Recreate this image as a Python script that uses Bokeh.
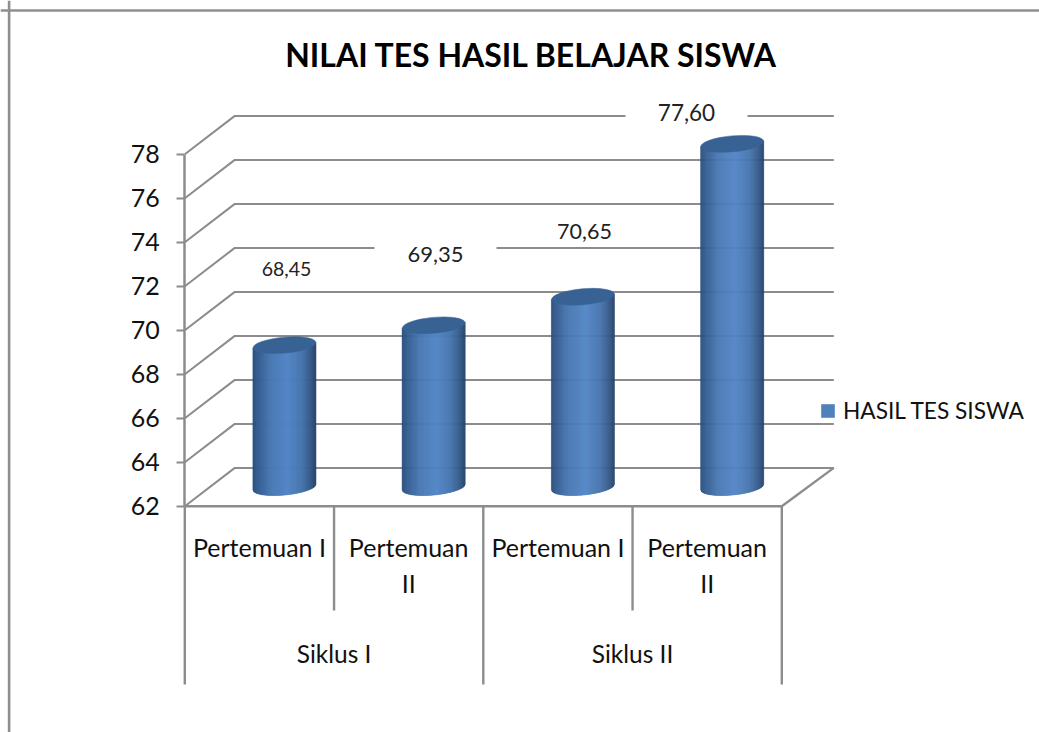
from bokeh.plotting import figure
from bokeh.embed import file_html
from bokeh.resources import INLINE
from bokeh.models import Label, Legend, LegendItem, FixedTicker, Span, Range1d
from bokeh.core.properties import value
import math

# ---- data ----
pertemuan = ["Pertemuan I", "Pertemuan\nII", "Pertemuan I", "Pertemuan\nII"]
siklus = ["Siklus I", "Siklus II"]
nilai = [68.45, 69.35, 70.65, 77.60]
label_teks = ["68,45", "69,35", "70,65", "77,60"]
y_ticks = [62, 64, 66, 68, 70, 72, 74, 76, 78]
series_name = "HASIL TES SISWA"
title_text = "NILAI TES HASIL BELAJAR SISWA"

# ---- layout ----
W, H = 1039, 732
X0, Y0 = 184.3, 505.7      # page pixel of the axis origin (category 0, value 62)
UX, UY = 149.25, 22.0      # pixels per category, pixels per value unit
DX, DY = 50 / UX, 38.3 / UY  # depth of the 3D box in data units
FONT = "Lato"
GRID = "#8c8c8c"

def px(page_x):
    return (page_x - X0) / UX

def py(page_y):
    return 62 + (Y0 - page_y) / UY

p = figure(width=W, height=H, output_backend="svg", toolbar_location=None,
           x_range=Range1d(px(0), px(W)), y_range=Range1d(py(H), py(0)),
           min_border=0, min_border_left=0, min_border_right=0, min_border_top=0,
           min_border_bottom=0, x_axis_location=None, outline_line_color=None,
           background_fill_color="white", border_fill_color="white")
p.grid.visible = False

# page border
p.add_layout(Span(location=px(8.6), dimension="height", line_color="#8f8f8f", line_width=2.6))
p.add_layout(Span(location=py(10), dimension="width", line_color="#8f8f8f", line_width=2.4))

# y axis at category 0
ax = p.yaxis[0]
ax.fixed_location = 0
ax.bounds = (62, 78)
ax.ticker = FixedTicker(ticks=y_ticks)
ax.axis_line_color = GRID
ax.axis_line_width = 2.5
ax.major_tick_line_color = GRID
ax.major_tick_line_width = 2
ax.major_tick_out = 8
ax.major_tick_in = 0
ax.minor_tick_line_color = None
ax.major_label_standoff = 17
ax.major_label_text_font = FONT
ax.major_label_text_font_size = "25px"
ax.major_label_text_color = "#111111"

n = len(nilai)
# 3D wall grid
wx, wy = [], []
for t in y_ticks:
    wx.append([0, DX, n + 52 / UX])
    wy.append([t, t + DY, t + DY])
p.multi_line(wx, wy, line_color=GRID, line_width=2)
# floor
p.multi_line([[0, n], [n, n + 52 / UX]], [[62, 62], [62, 62 + DY]],
             line_color=GRID, line_width=2.4)

# category separators
for i in range(n + 1):
    low = py(684) if i % 2 == 0 else py(610)
    p.segment(i, 62, i, low, line_color=GRID, line_width=2.4)

# white boxes behind data labels
label_x = [px(286), px(435), px(584), px(686)]
label_y = [py(268), py(254), py(231), py(112)]
label_size = ["19.5px", "22px", "21.5px", "22.5px"]
box_w = [96, 122, 110, 122]
p.rect(label_x, label_y, width=[b / UX for b in box_w], height=30 / UY,
       fill_color="white", line_color=None)

# cylinders
stops = [(0.0, (40, 78, 124)), (0.08, (52, 92, 144)), (0.28, (72, 120, 178)),
         (0.55, (82, 133, 198)), (0.78, (70, 116, 172)), (0.93, (52, 88, 136)),
         (1.0, (38, 66, 104))]

def shade(t):
    for (a, ca), (b, cb) in zip(stops, stops[1:]):
        if t <= b:
            f = (t - a) / (b - a)
            return "#%02x%02x%02x" % tuple(round(u + (v - u) * f) for u, v in zip(ca, cb))
    return "#264268"

R = 31.5          # cylinder radius, px
B = 8.0           # ellipse semi-height, px
TILT = 0.09       # rise of the ellipse axis per px
STRIPS = 63
for i, v in enumerate(nilai):
    cx = i + 0.5 + DX / 2
    xs, ys, cols = [], [], []
    for s in range(STRIPS):
        d0 = -R + 2 * R * s / STRIPS
        d1 = -R + 2 * R * (s + 1) / STRIPS
        bot0 = 62 + DY / 2 + (TILT * d0 - B * math.sqrt(max(0, 1 - (d0 / R) ** 2))) / UY
        bot1 = 62 + DY / 2 + (TILT * d1 - B * math.sqrt(max(0, 1 - (d1 / R) ** 2))) / UY
        top0 = v + DY / 2 + TILT * d0 / UY
        top1 = v + DY / 2 + TILT * d1 / UY
        xs.append([cx + d0 / UX, cx + d1 / UX, cx + d1 / UX, cx + d0 / UX])
        ys.append([bot0, bot1, top1, top0])
        cols.append(shade((s + 0.5) / STRIPS))
    p.patches(xs, ys, fill_color=cols, line_color=cols, line_width=0.6)
    p.ellipse([cx], [v + DY / 2], width=2 * R / UX, height=2 * B / UY, angle=math.atan(TILT),
              fill_color="#386294", line_color="#386294", line_width=0.5)

# data labels
for lx, ly, txt, sz in zip(label_x, label_y, label_teks, label_size):
    p.text([lx], [ly], text=[txt], text_align="center", text_baseline="middle",
           text_font=value(FONT), text_font_size=sz, text_color="#222222")

# category labels
p.text([i + 0.5 for i in range(n)], [py(531)] * n, text=pertemuan, text_align="center",
       text_baseline="top", text_font=value(FONT), text_font_size="25px",
       text_color="#111111", text_line_height=1.2)
p.text([1, 3], [py(653)] * 2, text=siklus, text_align="center", text_baseline="middle",
       text_font=value(FONT), text_font_size="24.5px", text_color="#111111")

# title
p.add_layout(Label(x=px(531), y=py(54), text=title_text, text_align="center",
                   text_baseline="middle", text_font=FONT, text_font_size="32px",
                   text_font_style="bold", text_color="black"))

# legend
legend_r = p.quad(left=[px(-100)], right=[px(-99)], top=[py(-100)], bottom=[py(-99)],
                  fill_color="#4f81bd", line_color=None)
leg = Legend(items=[LegendItem(label=series_name, renderers=[legend_r])],
             location=(819, 308), glyph_width=17, glyph_height=17, label_standoff=7,
             label_text_font=FONT, label_text_font_size="22.7px", label_text_color="#111111",
             border_line_color=None, background_fill_color=None, background_fill_alpha=0,
             margin=0, padding=0, spacing=0, label_height=17)
p.add_layout(leg)

open("out.html", "w").write(file_html(p, INLINE))
